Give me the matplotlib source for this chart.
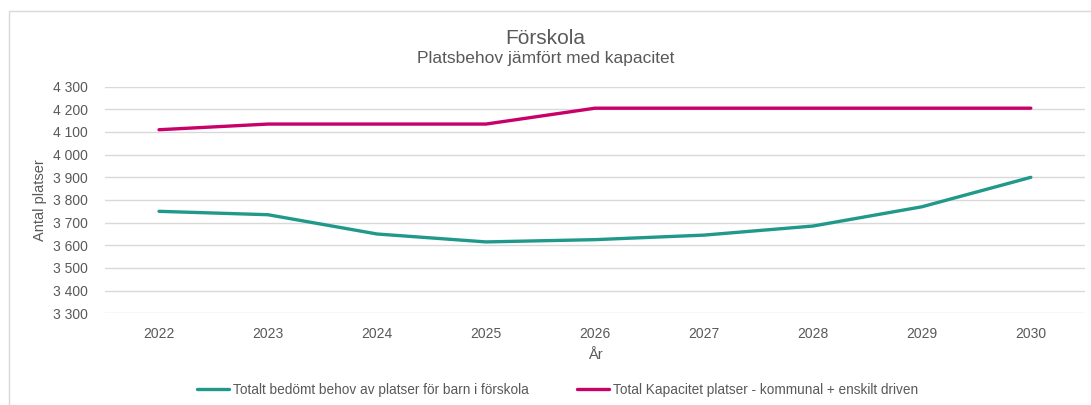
import numpy as np
import matplotlib.pyplot as plt
from matplotlib.patches import Rectangle
from matplotlib.ticker import FuncFormatter

plt.rcParams['font.family'] = ['Liberation Sans', 'DejaVu Sans']

years = [2022, 2023, 2024, 2025, 2026, 2027, 2028, 2029, 2030]
behov = [3750, 3735, 3650, 3615, 3625, 3645, 3685, 3770, 3900]
kapacitet = [4110, 4135, 4135, 4135, 4205, 4205, 4205, 4205, 4205]
yticks = list(range(3300, 4301, 100))

grey = '#595959'
green = '#21998a'
magenta = '#c8006a'

fig = plt.figure(figsize=(10.91, 4.05), dpi=100)
ax = fig.add_axes([0.0958, 0.2264, 0.899, 0.5596])

ax.plot(years, behov, color=green, lw=2.4, solid_joinstyle='round', solid_capstyle='round',
        label='Totalt bedömt behov av platser för barn i förskola')
ax.plot(years, kapacitet, color=magenta, lw=2.4, solid_joinstyle='round', solid_capstyle='round',
        label='Total Kapacitet platser - kommunal + enskilt driven')

ax.set_xlim(2021.5, 2030.5)
ax.set_ylim(3300, 4300)
ax.set_xticks(years)
ax.set_yticks(yticks)
ax.yaxis.set_major_formatter(FuncFormatter(lambda v, p: f'{int(v):,}'.replace(',', ' ')))
ax.tick_params(length=0, colors=grey, labelsize=10)
ax.tick_params(axis='y', pad=12)
ax.tick_params(axis='x', pad=10)
ax.grid(axis='y', color='#d9d9d9', lw=1)
ax.set_axisbelow(True)
for s in ax.spines.values():
    s.set_visible(False)

ax.set_xlabel('År', color=grey, fontsize=10.5, labelpad=5)
ax.set_ylabel('Antal platser', color=grey, fontsize=10.5, labelpad=4)

fig.text(0.5, 0.906, 'Förskola', ha='center', va='center', color=grey, fontsize=15)
fig.text(0.5, 0.855, 'Platsbehov jämfört med kapacitet', ha='center', va='center',
         color=grey, fontsize=12.5)

fig.legend(loc='center', bbox_to_anchor=(0.511, 0.037), ncol=2, frameon=False,
           fontsize=9.8, labelcolor=grey, handlelength=2.35, handletextpad=0.3,
           columnspacing=3.5)

fig.patches.append(Rectangle((9 / 1091, -0.1), 1.2, 1 - 11 / 405 + 0.1,
                             transform=fig.transFigure, fill=False,
                             edgecolor='#d9d9d9', lw=1))

fig.savefig('out.png', dpi=100)
